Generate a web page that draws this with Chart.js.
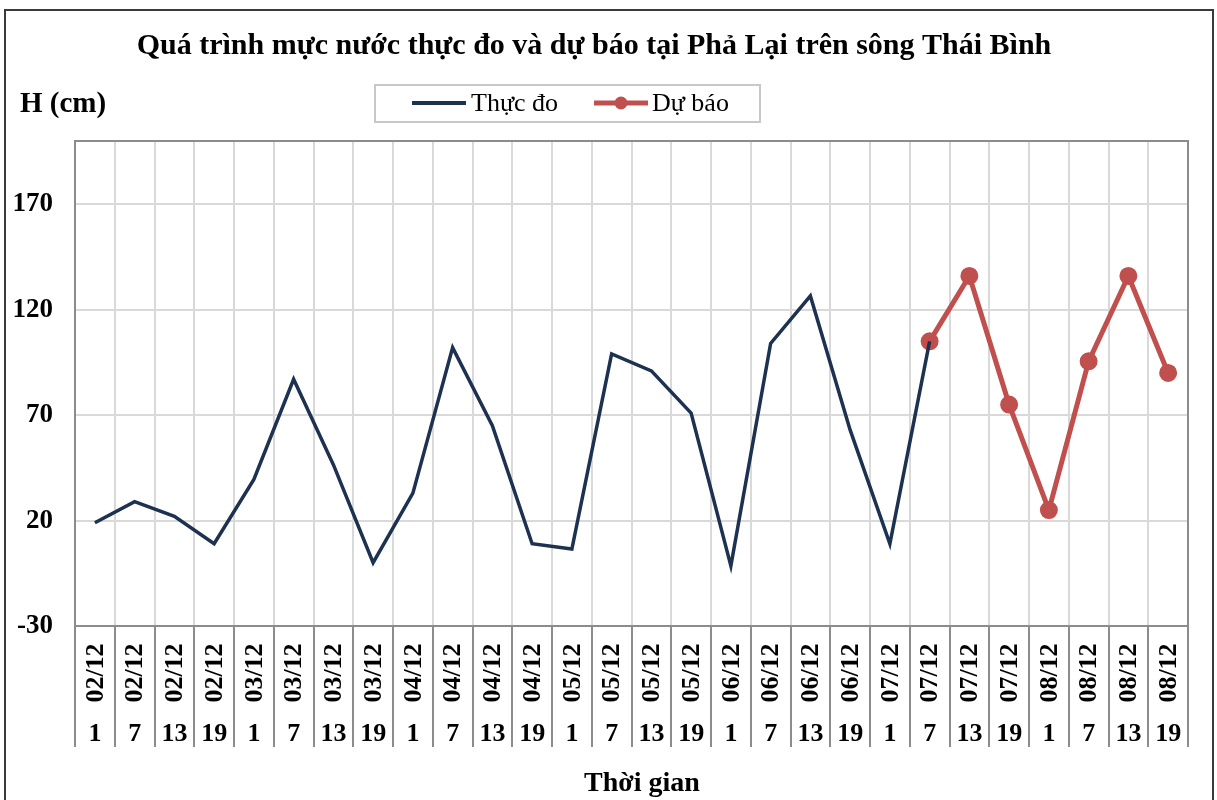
<!DOCTYPE html>
<html>
<head>
<meta charset="utf-8">
<script src="https://cdn.jsdelivr.net/npm/chart.js@4"></script>
<style>
  html, body { margin: 0; padding: 0; background: #fff; }
  #wrap { width: 1217px; height: 800px; position: relative; }
</style>
</head>
<body>
<div id="wrap"><canvas id="myChart"></canvas></div>
<script>
const days = ['02/12','02/12','02/12','02/12','03/12','03/12','03/12','03/12',
  '04/12','04/12','04/12','04/12','05/12','05/12','05/12','05/12',
  '06/12','06/12','06/12','06/12','07/12','07/12','07/12','07/12',
  '08/12','08/12','08/12','08/12']
const hours = ['1','7','13','19','1','7','13','19','1','7','13','19','1','7','13','19',
  '1','7','13','19','1','7','13','19','1','7','13','19']
const thucDo = [19, 29, 22, 9, 39.5, 87, 46.5, 0, 33, 102, 65, 9, 6.5, 99, 91, 71,
  -1.5, 104, 126.5, 63, 9, 105, null, null, null, null, null, null]
const duBao = [null, null, null, null, null, null, null, null, null, null, null, null, null, null,
  null, null, null, null, null, null, null, 105, 136, 75, 25, 95.5, 136, 90]
const yTicks = [-30, 20, 70, 120, 170]

const serif = '"Liberation Serif", "Times New Roman", serif'
const navy = '#1d3150'
const red = '#c0504d'

// nhan truc x 2 dong, khung bieu do, chu thich
const extras = {
  id: 'extras',
  beforeDatasetsDraw(chart) {
    const {ctx, chartArea: a} = chart
    ctx.save()
    ctx.strokeStyle = '#8c8c8c'
    ctx.lineWidth = 2
    ctx.strokeRect(a.left, a.top, a.right - a.left, a.bottom - a.top)
    ctx.restore()
  },
  afterDraw(chart) {
    const {ctx} = chart
    const x = chart.scales.x
    ctx.save()
    // vien ngoai
    ctx.strokeStyle = '#3a3a3a'
    ctx.lineWidth = 2
    ctx.strokeRect(5, 10, 1208, 800)

    ctx.fillStyle = '#000'
    ctx.font = 'bold 26px ' + serif
    ctx.textAlign = 'center'
    ctx.textBaseline = 'middle'
    days.forEach((d, i) => {
      const px = x.getPixelForValue(i)
      ctx.save()
      ctx.translate(px + 1, 673)
      ctx.rotate(-Math.PI / 2)
      ctx.fillText(d, 0, 0)
      ctx.restore()
      ctx.fillText(hours[i], px, 734)
    })

    // tieu de truc x
    ctx.font = 'bold 28px ' + serif
    ctx.fillText('Thời gian', 642, 784)

    // H (cm)
    ctx.font = 'bold 29px ' + serif
    ctx.textAlign = 'left'
    ctx.fillText('H (cm)', 20, 105)

    // chu thich
    ctx.strokeStyle = '#c8c8c8'
    ctx.lineWidth = 2
    ctx.strokeRect(375, 85, 385, 37)
    ctx.lineWidth = 4
    ctx.strokeStyle = navy
    ctx.beginPath(); ctx.moveTo(412, 103); ctx.lineTo(466, 103); ctx.stroke()
    ctx.strokeStyle = red
    ctx.lineWidth = 5
    ctx.beginPath(); ctx.moveTo(594, 103); ctx.lineTo(648, 103); ctx.stroke()
    ctx.fillStyle = red
    ctx.beginPath(); ctx.arc(621, 103, 6.5, 0, Math.PI * 2); ctx.fill()
    ctx.fillStyle = '#000'
    ctx.font = '26px ' + serif
    ctx.fillText('Thực đo', 471, 104)
    ctx.fillText('Dự báo', 652, 104)
    ctx.restore()
  }
}

new Chart(document.querySelector('#myChart'), {
  type: 'line',
  data: {
    labels: days.map((d, i) => d + ' ' + hours[i]),
    datasets: [{
      label: 'Thực đo',
      data: thucDo,
      borderColor: navy,
      backgroundColor: navy,
      borderWidth: 3.5,
      pointRadius: 0,
      tension: 0
    }, {
      label: 'Dự báo',
      data: duBao,
      borderColor: red,
      backgroundColor: red,
      borderWidth: 5,
      pointRadius: 6.5,
      pointHoverRadius: 6.5,
      tension: 0
    }]
  },
  options: {
    responsive: true,
    maintainAspectRatio: false,
    animation: false,
    events: [],
    layout: { padding: { left: 0, right: 29, top: 0, bottom: 0 } },
    plugins: {
      legend: { display: false },
      tooltip: { enabled: false },
      title: {
        display: true,
        text: 'Quá trình mực nước thực đo và dự báo tại Phả Lại trên sông Thái Bình',
        color: '#000',
        font: { family: serif, size: 30, weight: 'bold' },
        padding: { top: 28, bottom: 77 }
      }
    },
    scales: {
      x: {
        offset: true,
        grid: {
          offset: true,
          color: '#d9d9d9',
          lineWidth: 2,
          tickColor: '#8c8c8c',
          tickLength: 121,
          tickWidth: 2
        },
        border: { color: '#8c8c8c', width: 2 },
        ticks: { display: false },
        afterFit(s) { s.height = 174 }
      },
      y: {
        min: -30,
        max: 200,
        afterBuildTicks(s) { s.ticks = yTicks.map(v => ({ value: v })) },
        grid: { color: '#d9d9d9', lineWidth: 2, drawTicks: false },
        border: { color: '#8c8c8c', width: 2 },
        ticks: {
          color: '#000',
          padding: 22,
          font: { family: serif, size: 27, weight: 'bold' }
        },
        afterFit(s) { s.width = 75 }
      }
    }
  },
  plugins: [extras]
})
</script>
</body>
</html>
